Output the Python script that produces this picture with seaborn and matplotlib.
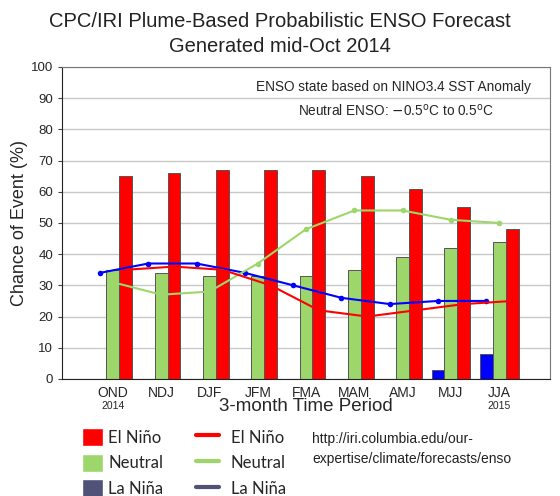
import numpy as np
import pandas as pd
import seaborn as sns
import matplotlib.pyplot as plt
from matplotlib.patches import Patch
from matplotlib.lines import Line2D

periods = ["OND", "NDJ", "DJF", "JFM", "FMA", "MAM", "AMJ", "MJJ", "JJA"]

# bars: plume-based probabilities (%)
elnino_bar = [65, 66, 67, 67, 67, 65, 61, 55, 48]
neutral_bar = [35, 34, 33, 33, 33, 35, 39, 42, 44]
lanina_bar = [0, 0, 0, 0, 0, 0, 0, 3, 8]

# lines: climatological probabilities (%)
elnino_line = [35, 36, 35, 30, 22, 20, 22, 24, 25]
neutral_line = [31, 27, 28, 37, 48, 54, 54, 51, 50]
lanina_line = [34, 37, 37, 34, 30, 26, 24, 25, 25]

states = ["La Niña", "Neutral", "El Niño"]
colors = {"La Niña": "#0000ff", "Neutral": "#9dd66a", "El Niño": "#ff0000"}

df = pd.DataFrame({
    "period": periods * 3,
    "prob": lanina_bar + neutral_bar + elnino_bar,
    "state": ["La Niña"] * 9 + ["Neutral"] * 9 + ["El Niño"] * 9,
})

sns.set_style("white")
plt.rcParams['font.family'] = ['Liberation Sans', 'DejaVu Sans']

fig = plt.figure(figsize=(5.6, 4.96), dpi=100)
ax = fig.add_axes([0.111, 0.236, 0.871, 0.629])

ax.yaxis.grid(True, color="#c8c8c8", linewidth=1)
ax.set_axisbelow(True)

sns.barplot(data=df, x="period", y="prob", hue="state", hue_order=states,
            palette=colors, saturation=1, edgecolor="#555555", linewidth=0.7,
            legend=False, ax=ax)

off = 0.8 / 3
xs = np.arange(len(periods))
sns.lineplot(x=xs - off, y=lanina_line, color="#0000ff", marker="o", markersize=4,
             markeredgewidth=0, linewidth=1.5, ax=ax)
sns.lineplot(x=xs, y=neutral_line, color="#9dd66a", marker="o", markersize=4,
             markeredgewidth=0, linewidth=1.5, ax=ax)
sns.lineplot(x=xs + off, y=elnino_line, color="#ff0000", linewidth=1.5, ax=ax)

ax.set_xlim(-1.05, 9.05)
ax.set_ylim(0, 100)
ax.set_yticks(range(0, 101, 10))
ax.tick_params(axis="y", labelsize=9.5, length=3, color="#444444", direction="out", left=True)
ax.tick_params(axis="x", labelsize=10, length=0, pad=5)
ax.set_xticks(xs)
ax.set_xticklabels(periods)
ax.set_xlabel("3-month Time Period", fontsize=13.5, labelpad=-1)
ax.set_ylabel("Chance of Event (%)", fontsize=13, labelpad=2)

for s in ["left", "bottom"]:
    ax.spines[s].set_color("#222222")
for s in ["top", "right"]:
    ax.spines[s].set_color("#777777")

ax.text(0, -0.07, "2014", transform=ax.get_xaxis_transform(), ha="center", va="top", fontsize=7.5)
ax.text(8, -0.07, "2015", transform=ax.get_xaxis_transform(), ha="center", va="top", fontsize=7.5)

ax.text(0.96, 0.935, "ENSO state based on NINO3.4 SST Anomaly", transform=ax.transAxes,
        ha="right", va="center", fontsize=9.8)
ax.text(0.885, 0.86, r"Neutral ENSO: $-$0.5$^{\rm o}$C to 0.5$^{\rm o}$C", transform=ax.transAxes,
        ha="right", va="center", fontsize=9.8)

fig.text(0.5, 0.976, "CPC/IRI Plume-Based Probabilistic ENSO Forecast\nGenerated mid-Oct 2014",
         ha="center", va="top", fontsize=14.5, linespacing=1.4, color="#222222")

legend_font = {"family": "Lato", "size": 12}
patch_handles = [Patch(facecolor="#ff0000", label="El Niño"),
                 Patch(facecolor="#9dd66a", label="Neutral"),
                 Patch(facecolor="#505278", label="La Niña")]
line_handles = [Line2D([], [], color="#ff0000", lw=3, label="El Niño"),
                Line2D([], [], color="#9dd66a", lw=3, label="Neutral"),
                Line2D([], [], color="#505278", lw=3, label="La Niña")]
fig.legend(handles=patch_handles, loc="upper left", bbox_to_anchor=(0.146, 0.137),
           frameon=False, prop=legend_font, handlelength=1.3, handleheight=1.3,
           handletextpad=0.3, labelspacing=0.45, borderpad=0, borderaxespad=0)
fig.legend(handles=line_handles, loc="upper left", bbox_to_anchor=(0.35, 0.137),
           frameon=False, prop=legend_font, handlelength=1.35, handleheight=1.3,
           handletextpad=0.75, labelspacing=0.45, borderpad=0, borderaxespad=0)

fig.text(0.558, 0.095, "http://iri.columbia.edu/our-\nexpertise/climate/forecasts/enso",
         ha="left", va="center", fontsize=10, linespacing=1.6, color="#222222")

fig.savefig("out.png", dpi=100)
